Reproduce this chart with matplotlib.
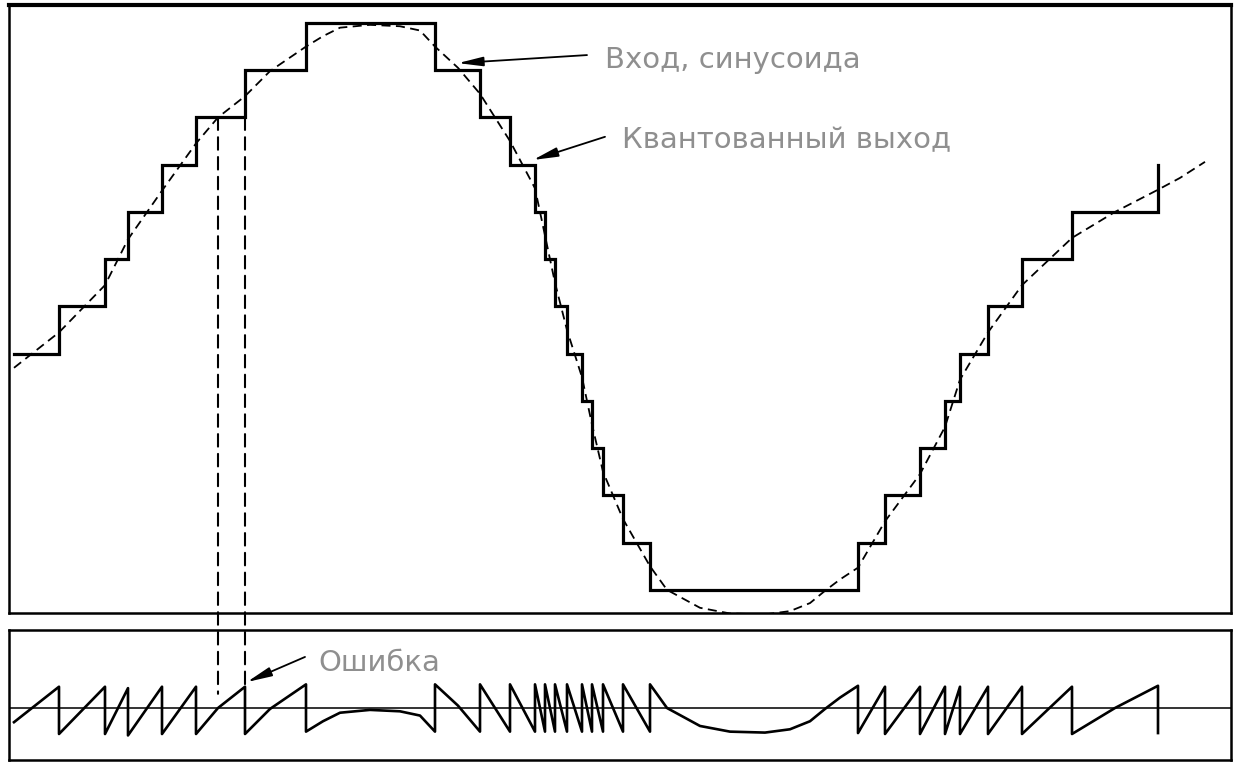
import numpy as np
import matplotlib.pyplot as plt
from matplotlib.patches import ConnectionPatch

plt.rcParams['font.family'] = ['DejaVu Sans']

# time samples (arbitrary units)
t = [1.4, 5.9, 10.5, 12.8, 16.2, 19.6, 21.8, 24.5, 27.0, 30.6,
     32.3, 34.0, 37.0, 40.0, 42.0, 43.5, 45.8, 48.0, 51.0, 53.5,
     54.5, 55.5, 56.7, 58.2, 59.2, 60.3, 62.3, 65.0, 66.7, 70.0,
     73.0, 76.5, 79.0, 81.0, 82.5, 84.0, 85.8, 88.5, 92.0, 94.5,
     96.0, 98.8, 102.2, 107.2, 111.5, 115.8]
# input sine, in quantization steps
v_in = [-1.3, -0.55, 0.45, 1.42, 2.45, 3.45, 4.0, 4.45, 4.98, 5.5,
        5.72, 5.9, 5.96, 5.93, 5.84, 5.5, 5.05, 4.5, 3.5, 2.5,
        1.5, 0.5, -0.5, -1.5, -2.5, -3.5, -4.5, -5.5, -6.0, -6.38,
        -6.5, -6.52, -6.45, -6.28, -6.02, -5.78, -5.53, -4.55, -3.55, -2.55,
        -1.55, -0.55, 0.45, 1.45, 2.0, 2.47]
# quantizer output, held from each sample to the next
v_q = [-1, 0, 1, 2, 3, 4, 4, 5, 5, 6,
       6, 6, 6, 6, 6, 5, 5, 4, 3, 2,
       1, 0, -1, -2, -3, -4, -5, -6, -6, -6,
       -6, -6, -6, -6, -6, -6, -5, -4, -3, -2,
       -1, 0, 1, 2, 2, 3]
# input curve continues past the last quantized sample
tail_t = [118.0, 120.5]
tail_v = [2.72, 3.06]

# dashed guides down to the error trace
guide_t = [21.8, 24.5]
guide_level = 4.0
guide_err = [0.3, 0.45]

t = np.array(t)
v_in = np.array(v_in)
v_q = np.array(v_q, dtype=float)

# staircase outline
st_x, st_y = [], []
for i in range(len(t)):
    if i > 0:
        st_x.append(t[i])
        st_y.append(v_q[i - 1])
    st_x.append(t[i])
    st_y.append(v_q[i])

# error = input - quantized output
er_x, er_y = [], []
for i in range(len(t) - 1):
    er_x += [t[i], t[i + 1]]
    er_y += [v_in[i] - v_q[i], v_in[i + 1] - v_q[i]]
er_x.append(t[-1])
er_y.append(v_in[-1] - v_q[-1])

fig = plt.figure(figsize=(12.38, 7.69), dpi=100)
ax1 = fig.add_axes([9 / 1238, 1 - 613 / 769, 1222 / 1238, 608 / 769])
ax2 = fig.add_axes([9 / 1238, 1 - 760 / 769, 1222 / 1238, 130 / 769])

xlim = (0.9, 123.1)

ax1.plot(np.r_[t, tail_t], np.r_[v_in, tail_v], color='black', lw=1.3,
         linestyle=(0, (5, 3)))
ax1.plot(st_x, st_y, color='black', lw=2.3, solid_joinstyle='miter')
ax1.set_xlim(*xlim)
ax1.set_ylim(-6.49, 6.38)

ax2.axhline(0, color='#333333', lw=1.4)
ax2.plot(er_x, er_y, color='black', lw=1.9)
ax2.set_xlim(*xlim)
ax2.set_ylim(-1.10, 1.65)

for ax in (ax1, ax2):
    ax.set_xticks([])
    ax.set_yticks([])
    for spine in ax.spines.values():
        spine.set_linewidth(1.8)
ax1.spines['top'].set_linewidth(3)

for gx, ge in zip(guide_t, guide_err):
    con = ConnectionPatch(xyA=(gx, guide_level), coordsA=ax1.transData,
                          xyB=(gx, ge), coordsB=ax2.transData,
                          color='black', lw=1.5, linestyle=(0, (6, 3.5)))
    fig.add_artist(con)

label_color = '#8f8f8f'
arrow = dict(arrowstyle='-|>,head_length=1.5,head_width=0.28',
             color='black', lw=1.3, shrinkA=0, shrinkB=0)

ax1.annotate('', xy=(45.8, 5.15), xytext=(58.7, 5.32), arrowprops=arrow)
ax1.text(60.5, 5.22, 'Вход, синусоида', color=label_color, fontsize=21,
         va='center', ha='left')
ax1.annotate('', xy=(53.3, 3.10), xytext=(60.5, 3.59), arrowprops=arrow)
ax1.text(62.2, 3.52, 'Квантованный выход', color=label_color, fontsize=21,
         va='center', ha='left')
ax2.annotate('', xy=(24.7, 0.55), xytext=(30.5, 1.08), arrowprops=arrow)
ax2.text(31.8, 0.95, 'Ошибка', color=label_color, fontsize=21,
         va='center', ha='left')

plt.savefig('out.png', dpi=100)
